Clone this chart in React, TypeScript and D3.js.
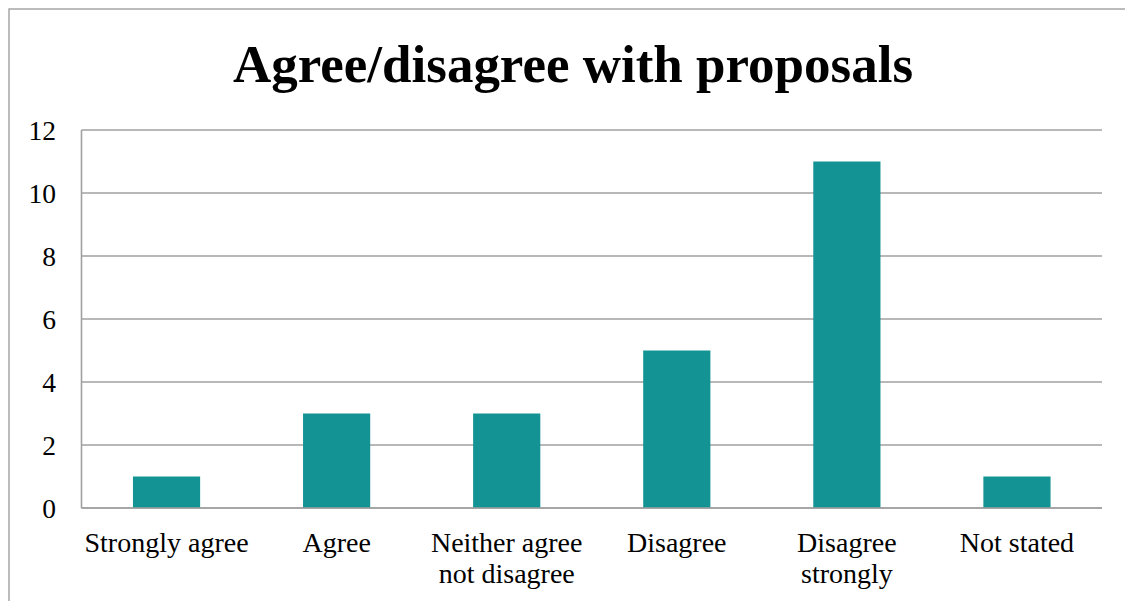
import React from "react";
import * as d3 from "d3";

const categories: string[][] = [
  ["Strongly agree"],
  ["Agree"],
  ["Neither agree", "not disagree"],
  ["Disagree"],
  ["Disagree", "strongly"],
  ["Not stated"],
];
const values: number[] = [1, 3, 3, 5, 11, 1];
const yTicks: number[] = [0, 2, 4, 6, 8, 10, 12];
const title = "Agree/disagree with proposals";

const W = 1125;
const H = 601;
const margin = { left: 81.5, right: 1102, top: 130, bottom: 508 };
const FONT = "'Liberation Serif', 'Times New Roman', serif";

export default function App() {
  const x = d3
    .scaleBand<number>()
    .domain(values.map((_, i) => i))
    .range([margin.left, margin.right])
    .paddingInner(0.605)
    .paddingOuter(0.3025);
  const y = d3.scaleLinear().domain([0, 12]).range([margin.bottom, margin.top]);

  return (
    <svg
      width={W}
      height={H}
      style={{ position: "absolute", left: 0, top: 0, background: "#fff" }}
    >
      <rect x={9} y={9} width={1140} height={620} fill="#fff" stroke="#a6a6a6" strokeWidth={1.5} />
      <text
        x={573}
        y={82}
        textAnchor="middle"
        fontFamily={FONT}
        fontWeight="bold"
        fontSize={52}
        textLength={680}
        lengthAdjust="spacingAndGlyphs"
        fill="#000"
      >
        {title}
      </text>
      {yTicks.map((t) => (
        <g key={t}>
          <line
            x1={margin.left}
            x2={margin.right}
            y1={y(t)}
            y2={y(t)}
            stroke="#a0a0a0"
            strokeWidth={1.6}
          />
          <text
            x={56}
            y={y(t)}
            dy="0.35em"
            textAnchor="end"
            fontFamily={FONT}
            fontSize={27.5}
            fill="#000"
          >
            {t}
          </text>
        </g>
      ))}
      <line
        x1={margin.left}
        x2={margin.left}
        y1={margin.top}
        y2={margin.bottom}
        stroke="#a0a0a0"
        strokeWidth={1.6}
      />
      {values.map((v, i) => (
        <rect
          key={i}
          x={x(i)}
          y={y(v)}
          width={x.bandwidth()}
          height={y(0) - y(v)}
          fill="#139393"
        />
      ))}
      <line
        x1={margin.left}
        x2={margin.right}
        y1={y(0)}
        y2={y(0)}
        stroke="#a0a0a0"
        strokeWidth={1.6}
      />
      {categories.map((lines, i) => (
        <text
          key={i}
          x={(x(i) as number) + x.bandwidth() / 2}
          y={552}
          textAnchor="middle"
          fontFamily={FONT}
          fontSize={28}
          fill="#000"
        >
          {lines.map((l, j) => (
            <tspan key={j} x={(x(i) as number) + x.bandwidth() / 2} dy={j === 0 ? 0 : 31}>
              {l}
            </tspan>
          ))}
        </text>
      ))}
    </svg>
  );
}
